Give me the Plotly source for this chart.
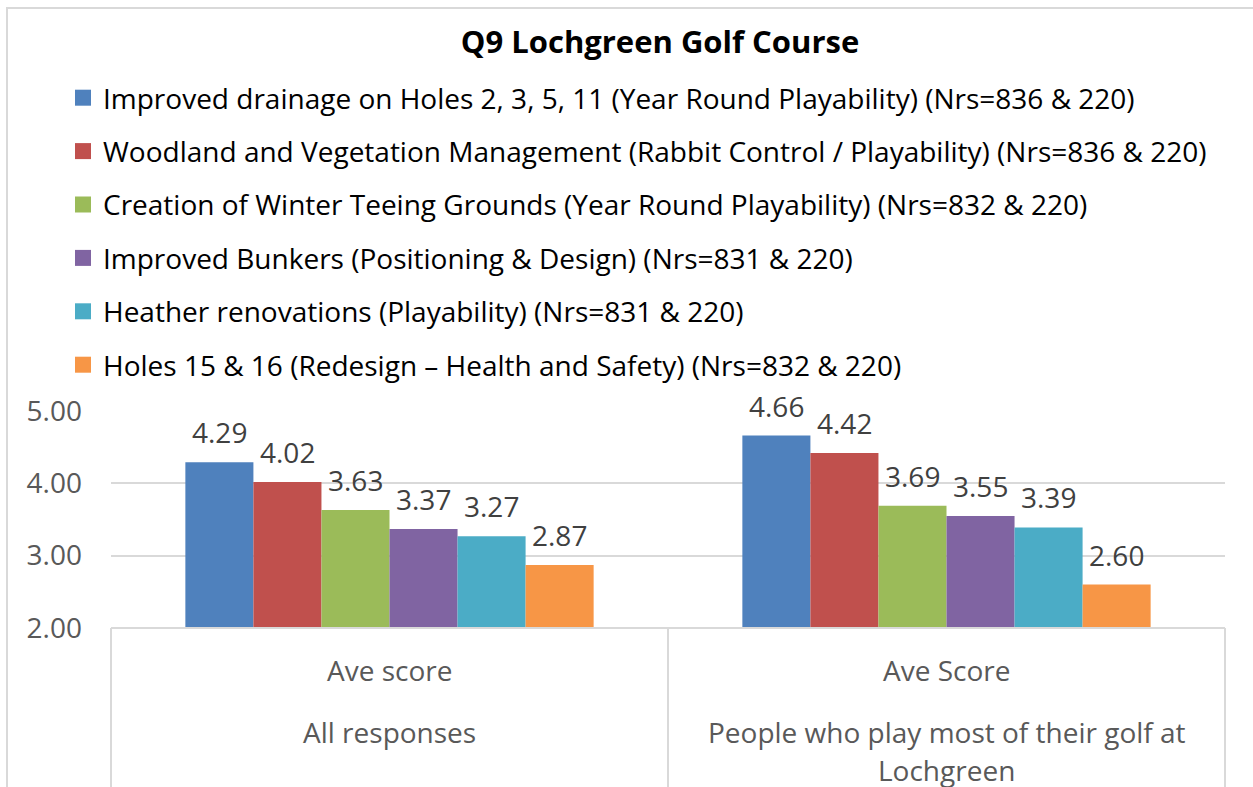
import plotly.graph_objects as go

# ---- data ----
groups = ["All responses", "People who play most of their golf at Lochgreen"]
sub_labels = ["Ave score", "Ave Score"]
group_lines = [["All responses"], ["People who play most of their golf at", "Lochgreen"]]
series_names = [
    "Improved drainage on Holes 2, 3, 5, 11 (Year Round Playability) (Nrs=836 & 220)",
    "Woodland and Vegetation Management (Rabbit Control / Playability) (Nrs=836 & 220)",
    "Creation of Winter Teeing Grounds (Year Round Playability) (Nrs=832 & 220)",
    "Improved Bunkers (Positioning & Design) (Nrs=831 & 220)",
    "Heather renovations (Playability) (Nrs=831 & 220)",
    "Holes 15 & 16 (Redesign \u2013 Health and Safety) (Nrs=832 & 220)",
]
series_values = [
    [4.29, 4.66],
    [4.02, 4.42],
    [3.63, 3.69],
    [3.37, 3.55],
    [3.27, 3.39],
    [2.87, 2.60],
]
colors = ["#4F81BD", "#C0504D", "#9BBB59", "#8064A2", "#4BACC6", "#F79646"]
y_ticks = [2, 3, 4, 5]
title = "Q9 Lochgreen Golf Course"

FONT = "Open Sans"
FS = 28
W, H = 1253, 787
L, R, T, B = 111, 28, 411, 159
pw, ph = W - L - R, H - T - B
BARGAP = 0.267
n_series = len(series_names)

def px_x(x):
    return (x - L) / pw

def px_y(y):
    return (H - B - y) / ph

fig = go.Figure()
for i, (name, vals) in enumerate(zip(series_names, series_values)):
    fig.add_trace(go.Bar(
        x=groups, y=vals, name=name,
        marker=dict(color=colors[i], line=dict(width=0)),
        legendgroup=f"g{i}", showlegend=False,
    ))
# legend entries with larger square swatches
for i, name in enumerate(series_names):
    fig.add_trace(go.Scatter(
        x=[None], y=[None], mode="markers", name=name,
        marker=dict(symbol="square", size=16, color=colors[i], line=dict(width=0)),
        legendgroup=f"g{i}", showlegend=True, hoverinfo="skip",
    ))

# value labels placed above each bar (offset within its group from the bar layout)
bar_px = pw / len(groups) * (1 - BARGAP) / n_series
annotations = []
for i, vals in enumerate(series_values):
    for g, v in zip(groups, vals):
        annotations.append(dict(
            x=g, xref="x", y=v, yref="y", text=f"{v:.2f}", showarrow=False,
            xshift=(i - (n_series - 1) / 2) * bar_px, yanchor="bottom", yshift=9,
            font=dict(family=FONT, size=FS, color="#404040")))

shapes = []
line_style = dict(color="#D9D9D9", width=2)
shapes.append(dict(type="line", xref="paper", yref="paper", x0=0, x1=1, y0=0, y1=0, line=line_style, layer="above"))
for xp in [0, 0.5, 1]:
    shapes.append(dict(type="line", xref="paper", yref="paper", x0=xp, x1=xp, y0=0, y1=px_y(800), line=line_style))
shapes.append(dict(type="rect", xref="paper", yref="paper", x0=px_x(7), x1=px_x(1270), y0=px_y(800), y1=px_y(8),
                   line=dict(color="#D9D9D9", width=2), fillcolor="rgba(0,0,0,0)", layer="below"))

for g, sub, lines in zip(groups, sub_labels, group_lines):
    annotations.append(dict(x=g, xref="x", y=px_y(670), yref="paper", text=sub, showarrow=False,
                            font=dict(family=FONT, size=FS, color="#595959"), yanchor="middle"))
    for ln, yy in zip(lines, [732, 770]):
        annotations.append(dict(x=g, xref="x", y=px_y(yy), yref="paper", text=ln, showarrow=False,
                                font=dict(family=FONT, size=FS, color="#595959"), yanchor="middle"))

fig.update_layout(
    width=W, height=H,
    margin=dict(l=L, r=R, t=T, b=B, autoexpand=False),
    paper_bgcolor="white", plot_bgcolor="white",
    title=dict(text=f"<b>{title}</b>", x=660 / W, xanchor="center", y=1 - 42 / H, yanchor="middle",
               font=dict(family=FONT, size=31, color="#000000")),
    barmode="group", bargap=BARGAP, bargroupgap=0,
    showlegend=True,
    legend=dict(x=px_x(63), xanchor="left", y=px_y(73), yanchor="top", orientation="v",
                font=dict(family=FONT, size=FS, color="#000000"), tracegroupgap=14,
                bgcolor="rgba(0,0,0,0)", itemclick=False),
    xaxis=dict(showticklabels=False, showgrid=False, showline=False, ticks="", zeroline=False),
    yaxis=dict(range=[2, 5], tickvals=y_ticks, tickformat=".2f", showgrid=True, gridcolor="#D9D9D9", gridwidth=2,
               zeroline=False, showline=False, ticks="", ticklabelstandoff=28,
               tickfont=dict(family=FONT, size=FS, color="#595959")),
    shapes=shapes, annotations=annotations,
    font=dict(family=FONT),
)

fig.write_html("out.html", config={"displayModeBar": False},
               post_script="document.body.style.margin='0px'; document.body.style.overflow='hidden';")
